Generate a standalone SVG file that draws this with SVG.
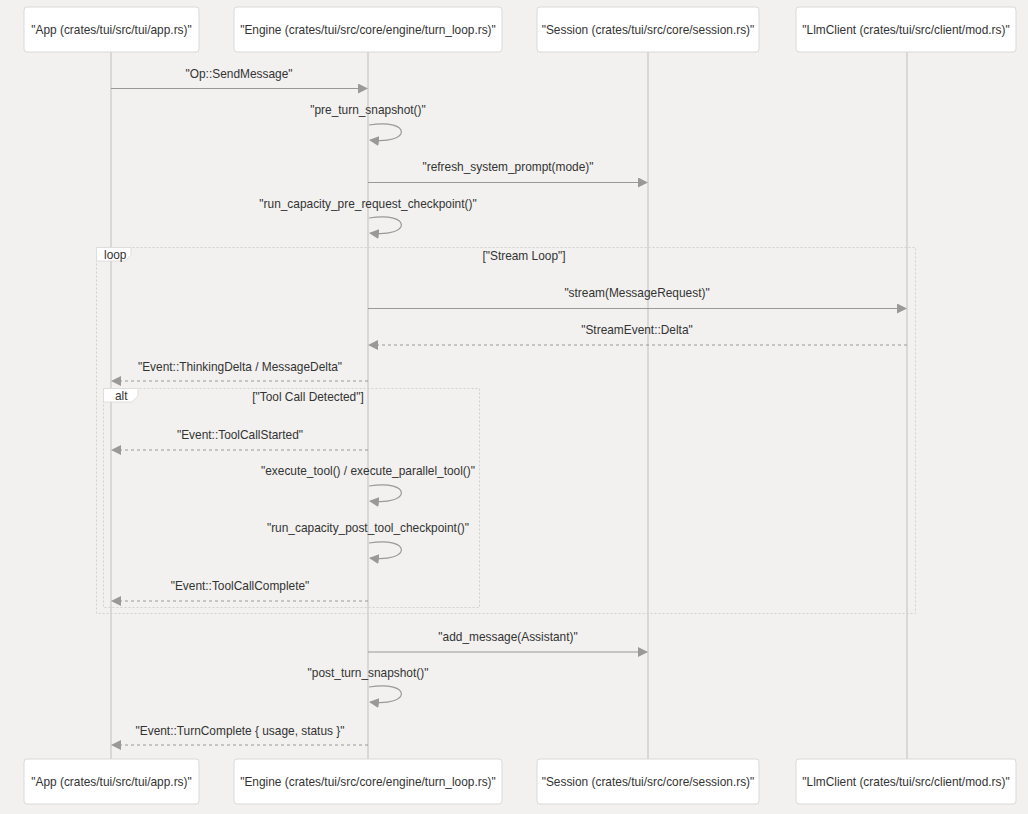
<svg xmlns="http://www.w3.org/2000/svg" width="1028" height="814" viewBox="0 0 1028 814">
<style>
text{font-family:"Liberation Sans",Arial,sans-serif;font-size:11.9px;fill:#333}
.actor rect{fill:#fff;stroke:#d9d9d9;stroke-width:1}
.actor text{text-anchor:middle;dominant-baseline:central}
.life{stroke:#cfcfcf;stroke-width:1.5}
.msg{stroke:#999;stroke-width:1.2;fill:none}
.dash{stroke-dasharray:3,3}
.lbl{text-anchor:middle}
.frame{fill:none;stroke:#d0d0d0;stroke-width:1;stroke-dasharray:2,2}
.tab{fill:#fff;stroke:#d8d8d8;stroke-width:0.8}
</style>
<defs>
<marker id="ah" viewBox="0 0 10 10" refX="9" refY="5" markerWidth="10" markerHeight="10" markerUnits="userSpaceOnUse" orient="auto-start-reverse">
<path d="M0,0 L10,5 L0,10 z" fill="#999"/>
</marker>
</defs>
<rect width="1028" height="814" fill="#f2f1ef"/>
<g id="lifelines">
<line class="life" x1="111" y1="52" x2="111" y2="759"/>
<line class="life" x1="368" y1="52" x2="368" y2="759"/>
<line class="life" x1="648" y1="52" x2="648" y2="759"/>
<line class="life" x1="907" y1="52" x2="907" y2="759"/>
</g>
<g id="frames">
<g id="loop-frame">
<rect class="frame" x="96.5" y="247.5" width="819" height="366"/>
<path class="tab" d="M96.5,247.5 H131 V255 L125,261 H96.5 Z"/>
<text x="104" y="259">loop</text>
<text class="lbl" x="524" y="260">["Stream Loop"]</text>
</g>
<g id="alt-frame">
<rect class="frame" x="103.5" y="388.5" width="376" height="219"/>
<path class="tab" d="M103.5,388.5 H138 V396 L132,402 H103.5 Z"/>
<text x="115" y="400">alt</text>
<text class="lbl" x="308" y="401">["Tool Call Detected"]</text>
</g>
</g>
<g id="app-top" class="actor"><rect x="24" y="7" width="175" height="45" rx="3"/><text x="111.5" y="30">"App (crates/tui/src/tui/app.rs)"</text></g>
<g id="engine-top" class="actor"><rect x="234" y="7" width="268" height="45" rx="3"/><text x="368" y="30">"Engine (crates/tui/src/core/engine/turn_loop.rs)"</text></g>
<g id="session-top" class="actor"><rect x="537" y="7" width="222" height="45" rx="3"/><text x="648" y="30">"Session (crates/tui/src/core/session.rs)"</text></g>
<g id="llm-top" class="actor"><rect x="796" y="7" width="220" height="45" rx="3"/><text x="906" y="30">"LlmClient (crates/tui/src/client/mod.rs)"</text></g>
<g id="app-bottom" class="actor"><rect x="24" y="759" width="175" height="45" rx="3"/><text x="111.5" y="782">"App (crates/tui/src/tui/app.rs)"</text></g>
<g id="engine-bottom" class="actor"><rect x="234" y="759" width="268" height="45" rx="3"/><text x="368" y="782">"Engine (crates/tui/src/core/engine/turn_loop.rs)"</text></g>
<g id="session-bottom" class="actor"><rect x="537" y="759" width="222" height="45" rx="3"/><text x="648" y="782">"Session (crates/tui/src/core/session.rs)"</text></g>
<g id="llm-bottom" class="actor"><rect x="796" y="759" width="220" height="45" rx="3"/><text x="906" y="782">"LlmClient (crates/tui/src/client/mod.rs)"</text></g>
<g id="connectors">
<line class="msg" x1="111" y1="88.5" x2="367" y2="88.5" marker-end="url(#ah)"/>
<text class="lbl" x="239" y="78">"Op::SendMessage"</text>
<path class="msg" d="M369,125 C412,118 412,145 370,140" marker-end="url(#ah)"/>
<text class="lbl" x="368" y="114">"pre_turn_snapshot()"</text>
<line class="msg" x1="368" y1="182.5" x2="647" y2="182.5" marker-end="url(#ah)"/>
<text class="lbl" x="508" y="171">"refresh_system_prompt(mode)"</text>
<path class="msg" d="M369,218 C412,211 412,238 370,233" marker-end="url(#ah)"/>
<text class="lbl" x="368" y="208">"run_capacity_pre_request_checkpoint()"</text>
<line class="msg" x1="368" y1="308.5" x2="906" y2="308.5" marker-end="url(#ah)"/>
<text class="lbl" x="637" y="297">"stream(MessageRequest)"</text>
<line class="msg dash" x1="907" y1="345" x2="369" y2="345" marker-end="url(#ah)"/>
<text class="lbl" x="637" y="334">"StreamEvent::Delta"</text>
<line class="msg dash" x1="368" y1="381" x2="112" y2="381" marker-end="url(#ah)"/>
<text class="lbl" x="240" y="371">"Event::ThinkingDelta / MessageDelta"</text>
<line class="msg dash" x1="368" y1="450" x2="112" y2="450" marker-end="url(#ah)"/>
<text class="lbl" x="240" y="439">"Event::ToolCallStarted"</text>
<path class="msg" d="M369,486 C412,479 412,506 370,501" marker-end="url(#ah)"/>
<text class="lbl" x="368" y="475">"execute_tool() / execute_parallel_tool()"</text>
<path class="msg" d="M369,543 C412,536 412,563 370,558" marker-end="url(#ah)"/>
<text class="lbl" x="368" y="532">"run_capacity_post_tool_checkpoint()"</text>
<line class="msg dash" x1="368" y1="601" x2="112" y2="601" marker-end="url(#ah)"/>
<text class="lbl" x="240" y="590">"Event::ToolCallComplete"</text>
<line class="msg" x1="368" y1="652" x2="647" y2="652" marker-end="url(#ah)"/>
<text class="lbl" x="508" y="641">"add_message(Assistant)"</text>
<path class="msg" d="M369,687 C412,680 412,707 370,702" marker-end="url(#ah)"/>
<text class="lbl" x="368" y="677">"post_turn_snapshot()"</text>
<line class="msg dash" x1="368" y1="745" x2="112" y2="745" marker-end="url(#ah)"/>
<text class="lbl" x="240" y="735">"Event::TurnComplete { usage, status }"</text>
</g>
</svg>
